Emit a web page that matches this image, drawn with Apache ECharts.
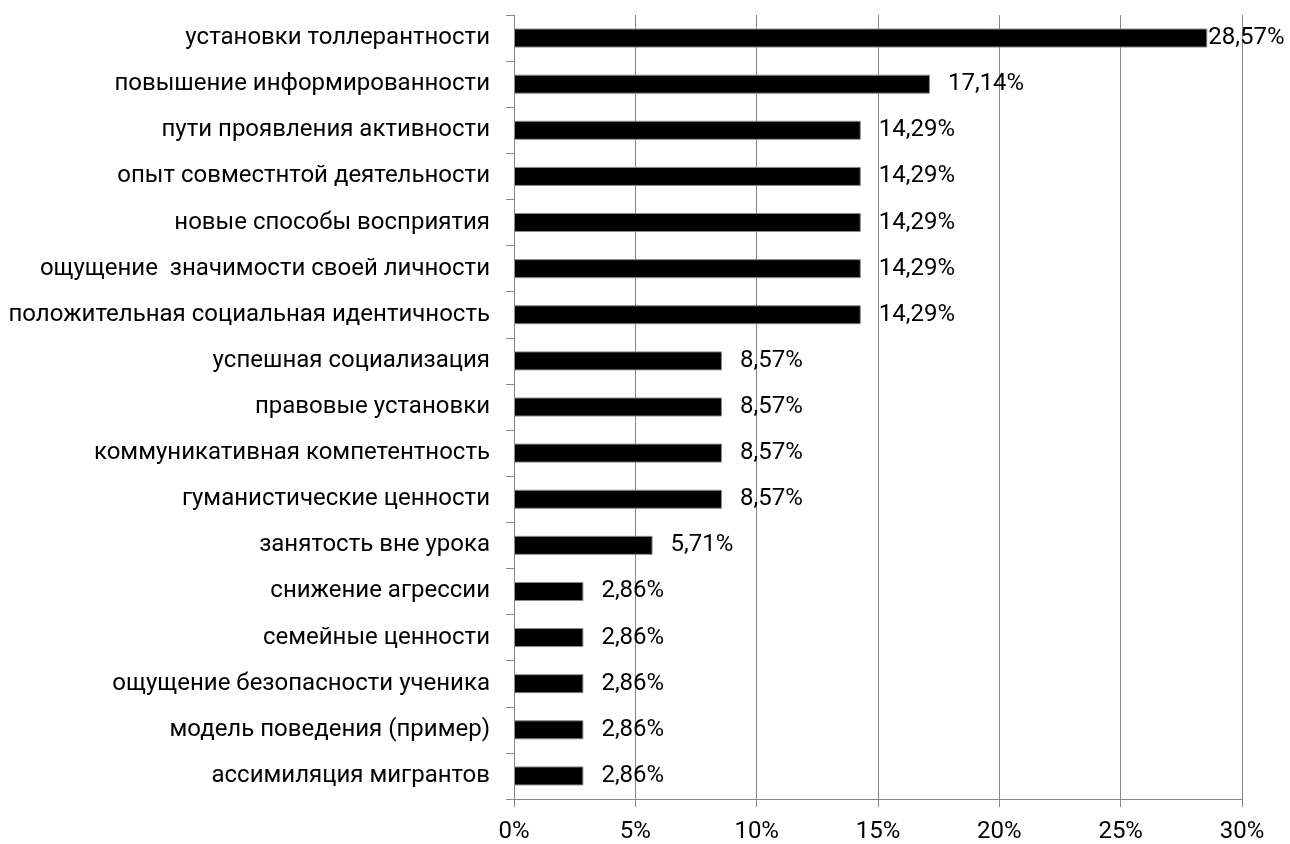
<!DOCTYPE html>
<html>
<head>
<meta charset="utf-8">
<script src="https://cdn.jsdelivr.net/npm/echarts@6/dist/echarts.min.js"></script>
<style>html,body{margin:0;padding:0;background:#fff}#c{width:1290px;height:844px}</style>
</head>
<body>
<div id="c"></div>
<script>
const categories = [
  'установки толлерантности',
  'повышение информированности',
  'пути проявления активности',
  'опыт совместнтой деятельности',
  'новые способы восприятия',
  'ощущение  значимости своей личности',
  'положительная социальная идентичность',
  'успешная социализация',
  'правовые установки',
  'коммуникативная компетентность',
  'гуманистические ценности',
  'занятость вне урока',
  'снижение агрессии',
  'семейные ценности',
  'ощущение безопасности ученика',
  'модель поведения (пример)',
  'ассимиляция мигрантов'
];
const values = [28.57, 17.14, 14.29, 14.29, 14.29, 14.29, 14.29, 8.57, 8.57, 8.57, 8.57, 5.71, 2.86, 2.86, 2.86, 2.86, 2.86];
const xTicks = { min: 0, max: 30, interval: 5 };

const FONT = 'Roboto';
const FS = 24;
const chart = echarts.init(document.getElementById('c'));
const seriesData = values.map(v => ({
  value: v,
  label: { distance: v > 25 ? 1 : 18 }
}));
chart.setOption({
  animation: false,
  grid: { left: 514, right: 48, top: 15, bottom: 45, containLabel: false },
  xAxis: {
    type: 'value', min: xTicks.min, max: xTicks.max, interval: xTicks.interval,
    axisLine: { show: true, lineStyle: { color: '#868686', width: 1 } },
    axisTick: { show: true, length: 8, lineStyle: { color: '#868686' } },
    splitLine: { show: true, lineStyle: { color: '#868686', width: 1 } },
    axisLabel: { formatter: '{value}%', color: '#000', fontFamily: FONT, fontSize: FS, margin: 21 }
  },
  yAxis: {
    type: 'category', data: categories, inverse: true,
    axisLine: { show: true, lineStyle: { color: '#868686', width: 1 } },
    axisTick: { show: true, length: 8, alignWithLabel: false, lineStyle: { color: '#868686' } },
    axisLabel: { color: '#000', fontFamily: FONT, fontSize: FS, margin: 24, interval: 0 }
  },
  series: [{
    type: 'bar', data: seriesData, barWidth: 19,
    itemStyle: { color: '#000', borderColor: '#8a8a8a', borderWidth: 1 },
    label: {
      show: true, position: 'right', color: '#000', fontFamily: FONT, fontSize: FS,
      formatter: p => p.value.toFixed(2).replace('.', ',') + '%'
    }
  }]
});
</script>
</body>
</html>
